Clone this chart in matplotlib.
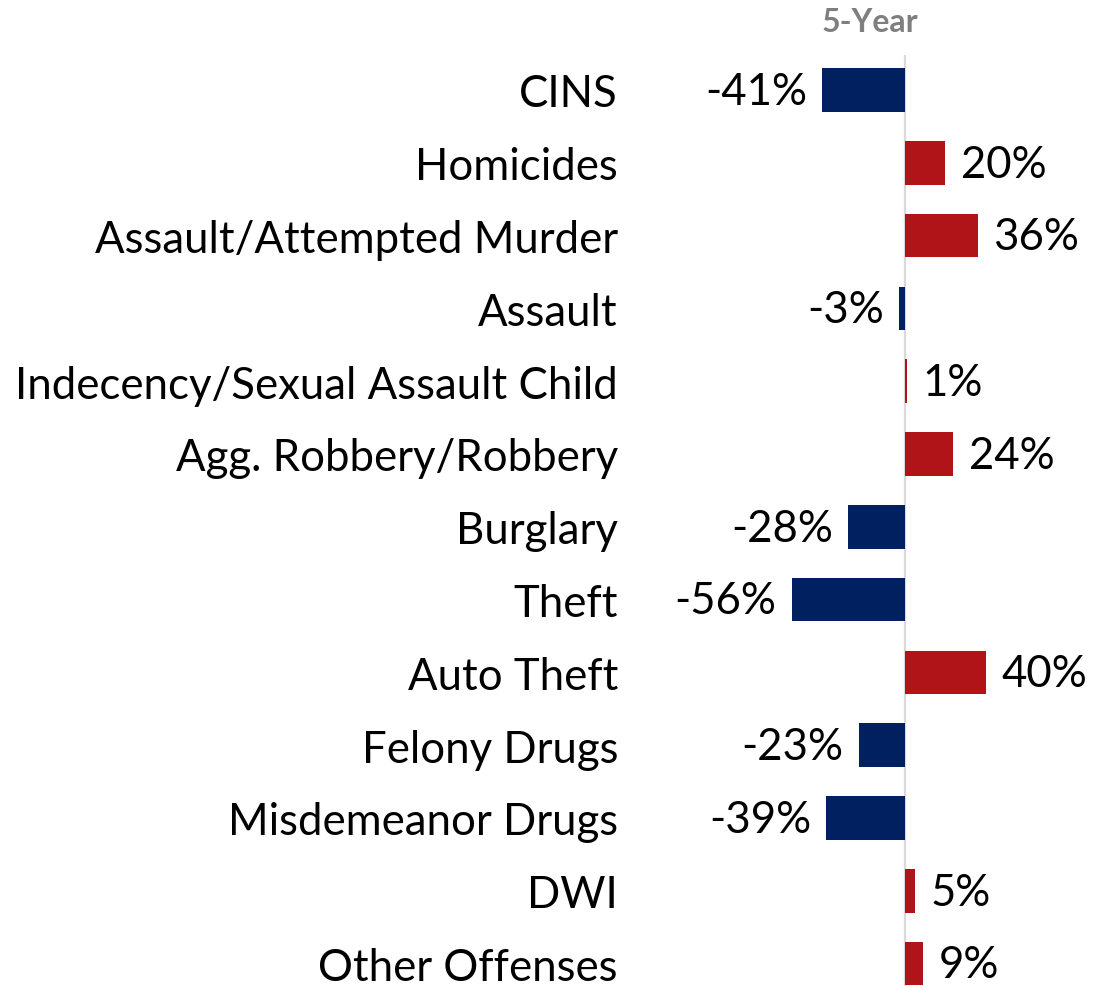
import matplotlib
matplotlib.use("Agg")
import matplotlib.pyplot as plt

categories = ["CINS", "Homicides", "Assault/Attempted Murder", "Assault",
              "Indecency/Sexual Assault Child", "Agg. Robbery/Robbery",
              "Burglary", "Theft", "Auto Theft", "Felony Drugs",
              "Misdemeanor Drugs", "DWI", "Other Offenses"]
change_5yr = [-41, 20, 36, -3, 1, 24, -28, -56, 40, -23, -39, 5, 9]

W, H = 1094, 987
fig = plt.figure(figsize=(W / 100, H / 100), dpi=100)
plt.rcParams['font.family'] = ['Lato', 'DejaVu Sans']

# axes in pixel coords: zero at x=905, 2.02 px per percent
px_per = 2.02
left_px, right_px = 640, 1094
top_px, bot_px = 56, 987
ax = fig.add_axes([left_px / W, 1 - bot_px / H, (right_px - left_px) / W, (bot_px - top_px) / H])
ax.set_xlim(-(905 - left_px) / px_per, (right_px - 905) / px_per)
row = 72.8
ax.set_ylim((bot_px - 91) / row, -(91 - top_px) / row)

colors = ['#002060' if v < 0 else '#B01419' for v in change_5yr]
ypos = list(range(len(categories)))
ax.barh(ypos, change_5yr, height=0.6, color=colors, zorder=2)
ax.axvline(0, color='#d9d9d9', lw=1.6, zorder=1)

fs = 31.5
for y, v in zip(ypos, change_5yr):
    if v < 0:
        ax.annotate(f"{v}%", (v, y), xytext=(-11, -1), textcoords='offset points',
                    ha='right', va='center', fontsize=fs, color='black')
    else:
        ax.annotate(f"{v}%", (v, y), xytext=(11, -1), textcoords='offset points',
                    ha='left', va='center', fontsize=fs, color='black')

ax.set_yticks(ypos)
ax.set_yticklabels(categories, fontsize=fs)
ax.tick_params(axis='y', length=0, pad=(left_px - 618) * 0.72)
ax.set_xticks([])
for s in ax.spines.values():
    s.set_visible(False)

fig.text(870 / W, 1 - 22 / H, "5-Year", ha='center', va='center',
         fontsize=23, fontweight='bold', color='#7f7f7f')

fig.savefig("out.png", dpi=100)
